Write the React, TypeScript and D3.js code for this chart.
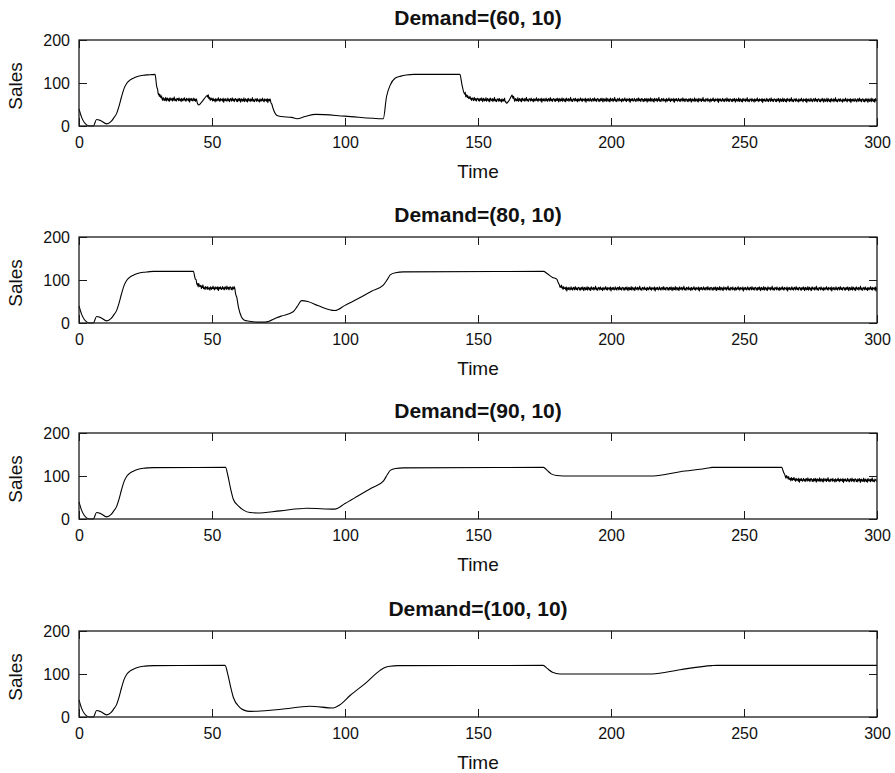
import { useEffect, useRef } from "react";
import * as d3 from "d3";

const width = 895;
const height = 773;
const marginLeft = 79;
const marginRight = 18;
const panelTops = [40, 237, 433, 631];
const panelHeight = 86;
const font = "'Liberation Sans', Arial, sans-serif";

const titles = ["Demand=(60, 10)", "Demand=(80, 10)", "Demand=(90, 10)", "Demand=(100, 10)"];
const xTicks = [0, 50, 100, 150, 200, 250, 300];
const yTicks = [0, 100, 200];

// common start-up transient (time, sales)
const startup: [number, number][] = [
  [0, 40], [1, 20], [2, 8], [3, 2], [4, 0], [5.4, 0], [6.6, 15], [8, 13], [10.4, 5],
  [12, 10], [13, 18], [14.2, 30], [15, 45], [16, 68], [17, 88], [17.9, 99], [19, 106],
  [20.4, 111], [22, 115], [24.2, 118], [26, 119],
];

const sales60: [number, number][] = [
  ...startup,
  [28.6, 120], [29.2, 92], [29.8, 76], [31, 66], [32, 62], [44, 61], [45.1, 49], [46, 55],
  [48, 70], [50, 61], [72, 60], [73, 40], [74.3, 25], [76, 22], [80, 20], [82, 17], [85, 22],
  [89, 27], [100, 23], [114.4, 17], [115.6, 68], [117, 95], [118.8, 111], [121, 116],
  [123, 118.6], [126, 120], [143.2, 120], [144, 95], [145, 77], [146, 68], [148, 62],
  [160, 60], [160.7, 53], [161.5, 58], [162.6, 70], [164, 61], [300, 60],
];
const noise60: [number, number][] = [[29.6, 44.6], [48.2, 72.4], [145, 160.4], [162.8, 300]];

const sales80: [number, number][] = [
  ...startup,
  [28, 120], [43, 120], [43.6, 105], [44.5, 90], [46, 84], [48, 81], [58.6, 81], [59.3, 60],
  [60, 35], [61, 15], [62, 7], [64, 4], [67, 2], [70, 2], [74.3, 12], [76, 16], [80.5, 26],
  [82, 38], [83.7, 52], [86, 50], [90, 40], [96.2, 29], [100, 41], [105, 57], [110, 74],
  [114.4, 88], [116, 102], [117, 112], [119, 117], [122, 119], [174.6, 120], [176, 115],
  [178, 106], [179.6, 102], [180.3, 92], [181, 84], [183, 80], [300, 80],
];
const noise80: [number, number][] = [[43.8, 58.8], [180.6, 300]];

const sales90: [number, number][] = [
  ...startup,
  [28, 119.5], [55.1, 120], [56, 100], [57, 70], [58, 46], [60, 30], [62, 20], [64.3, 15],
  [67, 14], [75.6, 19], [85.6, 25], [96.2, 23], [100, 36], [105, 54], [110, 72], [114.4, 88],
  [116, 104], [117, 113], [119, 117.5], [122, 119], [174.6, 120], [176, 113], [177.5, 105],
  [179.6, 101], [182, 100], [215.9, 100], [226, 110], [237.2, 119], [238, 120],
  [264.2, 120], [264.8, 110], [265.5, 100], [267, 94], [270, 91], [300, 90],
];
const noise90: [number, number][] = [[265.6, 300]];

const sales100: [number, number][] = [
  ...startup,
  [28, 119.5], [54.9, 120], [56, 98], [57, 70], [58, 46], [60.5, 22], [62, 16], [64.3, 13],
  [67, 13.5], [76, 18], [86.8, 25], [95.6, 21], [98, 28], [101.9, 50], [108, 80], [113.2, 108.5],
  [115, 115], [116.9, 118], [120, 119.5], [174.5, 120], [176, 113], [178, 104], [180.8, 100],
  [215.4, 100], [226, 110], [237.9, 119.5], [240, 120], [300, 120],
];
const noise100: [number, number][] = [];

// hand-read jitter of the noisy regime (sales units)
const jitter = [
  2, -3, 1, -4, 3, 0, -2, 4, -1, -5, 2, 3, -3, 1, -2, 5, -4, 0, 3, -1, -3, 2, -5, 4, 1, -2, 0,
  3, -4, 2, -1, 6, -3, 1, -2, -4, 3, 0, 2, -3, 4, -1, -2, 1, -5, 3, 0, -3, 2, -1, 5, -2, 1, -4,
  3, -1, 0, 2, -3, 4, -6, 1, 2, -2, 3, -1, -3, 0, 4, -2, 1, -4, 2, 3, -1, -3, 5, 0, -2, 2, -4,
  1, 3,
];

const panels = [
  { title: titles[0], keys: sales60, noise: noise60 },
  { title: titles[1], keys: sales80, noise: noise80 },
  { title: titles[2], keys: sales90, noise: noise90 },
  { title: titles[3], keys: sales100, noise: noise100 },
];

const xScale = d3.scaleLinear().domain([0, 300]).range([marginLeft, width - marginRight]);

function buildSeries(keys: [number, number][], noise: [number, number][], seed: number) {
  const base = d3
    .scaleLinear()
    .domain(keys.map((d) => d[0]))
    .range(keys.map((d) => d[1]));
  const pts: [number, number][] = keys.filter(
    ([t]) => !noise.some(([a, b]) => t >= a && t <= b)
  );
  noise.forEach(([a, b], s) => {
    const n = Math.floor((b - a) / 0.2);
    for (let i = 0; i <= n; i++) {
      const t = a + i * 0.2;
      pts.push([t, base(t) + jitter[(i + seed * 17 + s * 29) % jitter.length]]);
    }
  });
  return pts.sort((p, q) => p[0] - q[0]);
}

const Panel = ({ top, title, keys, noise, idx }) => {
  const axRef = useRef<SVGGElement>(null);
  const bottom = top + panelHeight;
  const yScale = d3.scaleLinear().domain([0, 200]).range([bottom, top]);
  const line = d3
    .line<[number, number]>()
    .x((d) => xScale(d[0]))
    .y((d) => yScale(d[1]))
    .curve(d3.curveMonotoneX);
  const series = buildSeries(keys, noise, idx);

  useEffect(() => {
    const g = d3.select(axRef.current);
    g.selectAll("*").remove();
    const styleAxis = (sel) => {
      sel.select(".domain").remove();
      sel.selectAll("line").attr("stroke", "#1a1a1a").attr("stroke-width", 1);
      sel.selectAll("text").attr("font-size", "16px").attr("font-family", font).attr("fill", "#111");
    };
    g.append("g")
      .attr("transform", `translate(0,${bottom})`)
      .call(d3.axisBottom(xScale).tickValues(xTicks).tickSize(-8).tickPadding(11).tickSizeOuter(0))
      .call(styleAxis);
    g.append("g")
      .attr("transform", `translate(0,${top})`)
      .call(d3.axisTop(xScale).tickValues(xTicks).tickSize(-8).tickFormat(() => "").tickSizeOuter(0))
      .call(styleAxis);
    g.append("g")
      .attr("transform", `translate(${marginLeft},0)`)
      .call(d3.axisLeft(yScale).tickValues(yTicks).tickSize(-8).tickPadding(9).tickSizeOuter(0))
      .call(styleAxis);
    g.append("g")
      .attr("transform", `translate(${width - marginRight},0)`)
      .call(d3.axisRight(yScale).tickValues(yTicks).tickSize(-8).tickFormat(() => "").tickSizeOuter(0))
      .call(styleAxis);
  }, [top]);

  const cx = (marginLeft + width - marginRight) / 2;
  return (
    <g>
      <path d={line(series) ?? ""} fill="none" stroke="#000" strokeWidth={1.1} />
      <g ref={axRef}></g>
      <rect
        x={marginLeft}
        y={top}
        width={width - marginRight - marginLeft}
        height={panelHeight}
        fill="none"
        stroke="#1a1a1a"
        strokeWidth={1.3}
      />
      <text x={cx} y={top - 15} textAnchor="middle" fontFamily={font} fontWeight="bold" fontSize={21} fill="#111">
        {title}
      </text>
      <text x={cx} y={bottom + 52} textAnchor="middle" fontFamily={font} fontSize={19} fill="#111">
        Time
      </text>
      <text
        transform={`translate(22,${top + 46}) rotate(-90)`}
        textAnchor="middle"
        fontFamily={font}
        fontSize={19}
        fill="#111"
      >
        Sales
      </text>
    </g>
  );
};

export default function App() {
  return (
    <svg
      width={width}
      height={height}
      viewBox={`0 0 ${width} ${height}`}
      style={{ position: "absolute", left: 0, top: 0, background: "#fff" }}
    >
      {panels.map((p, i) => (
        <Panel key={i} idx={i} top={panelTops[i]} title={p.title} keys={p.keys} noise={p.noise} />
      ))}
    </svg>
  );
}
